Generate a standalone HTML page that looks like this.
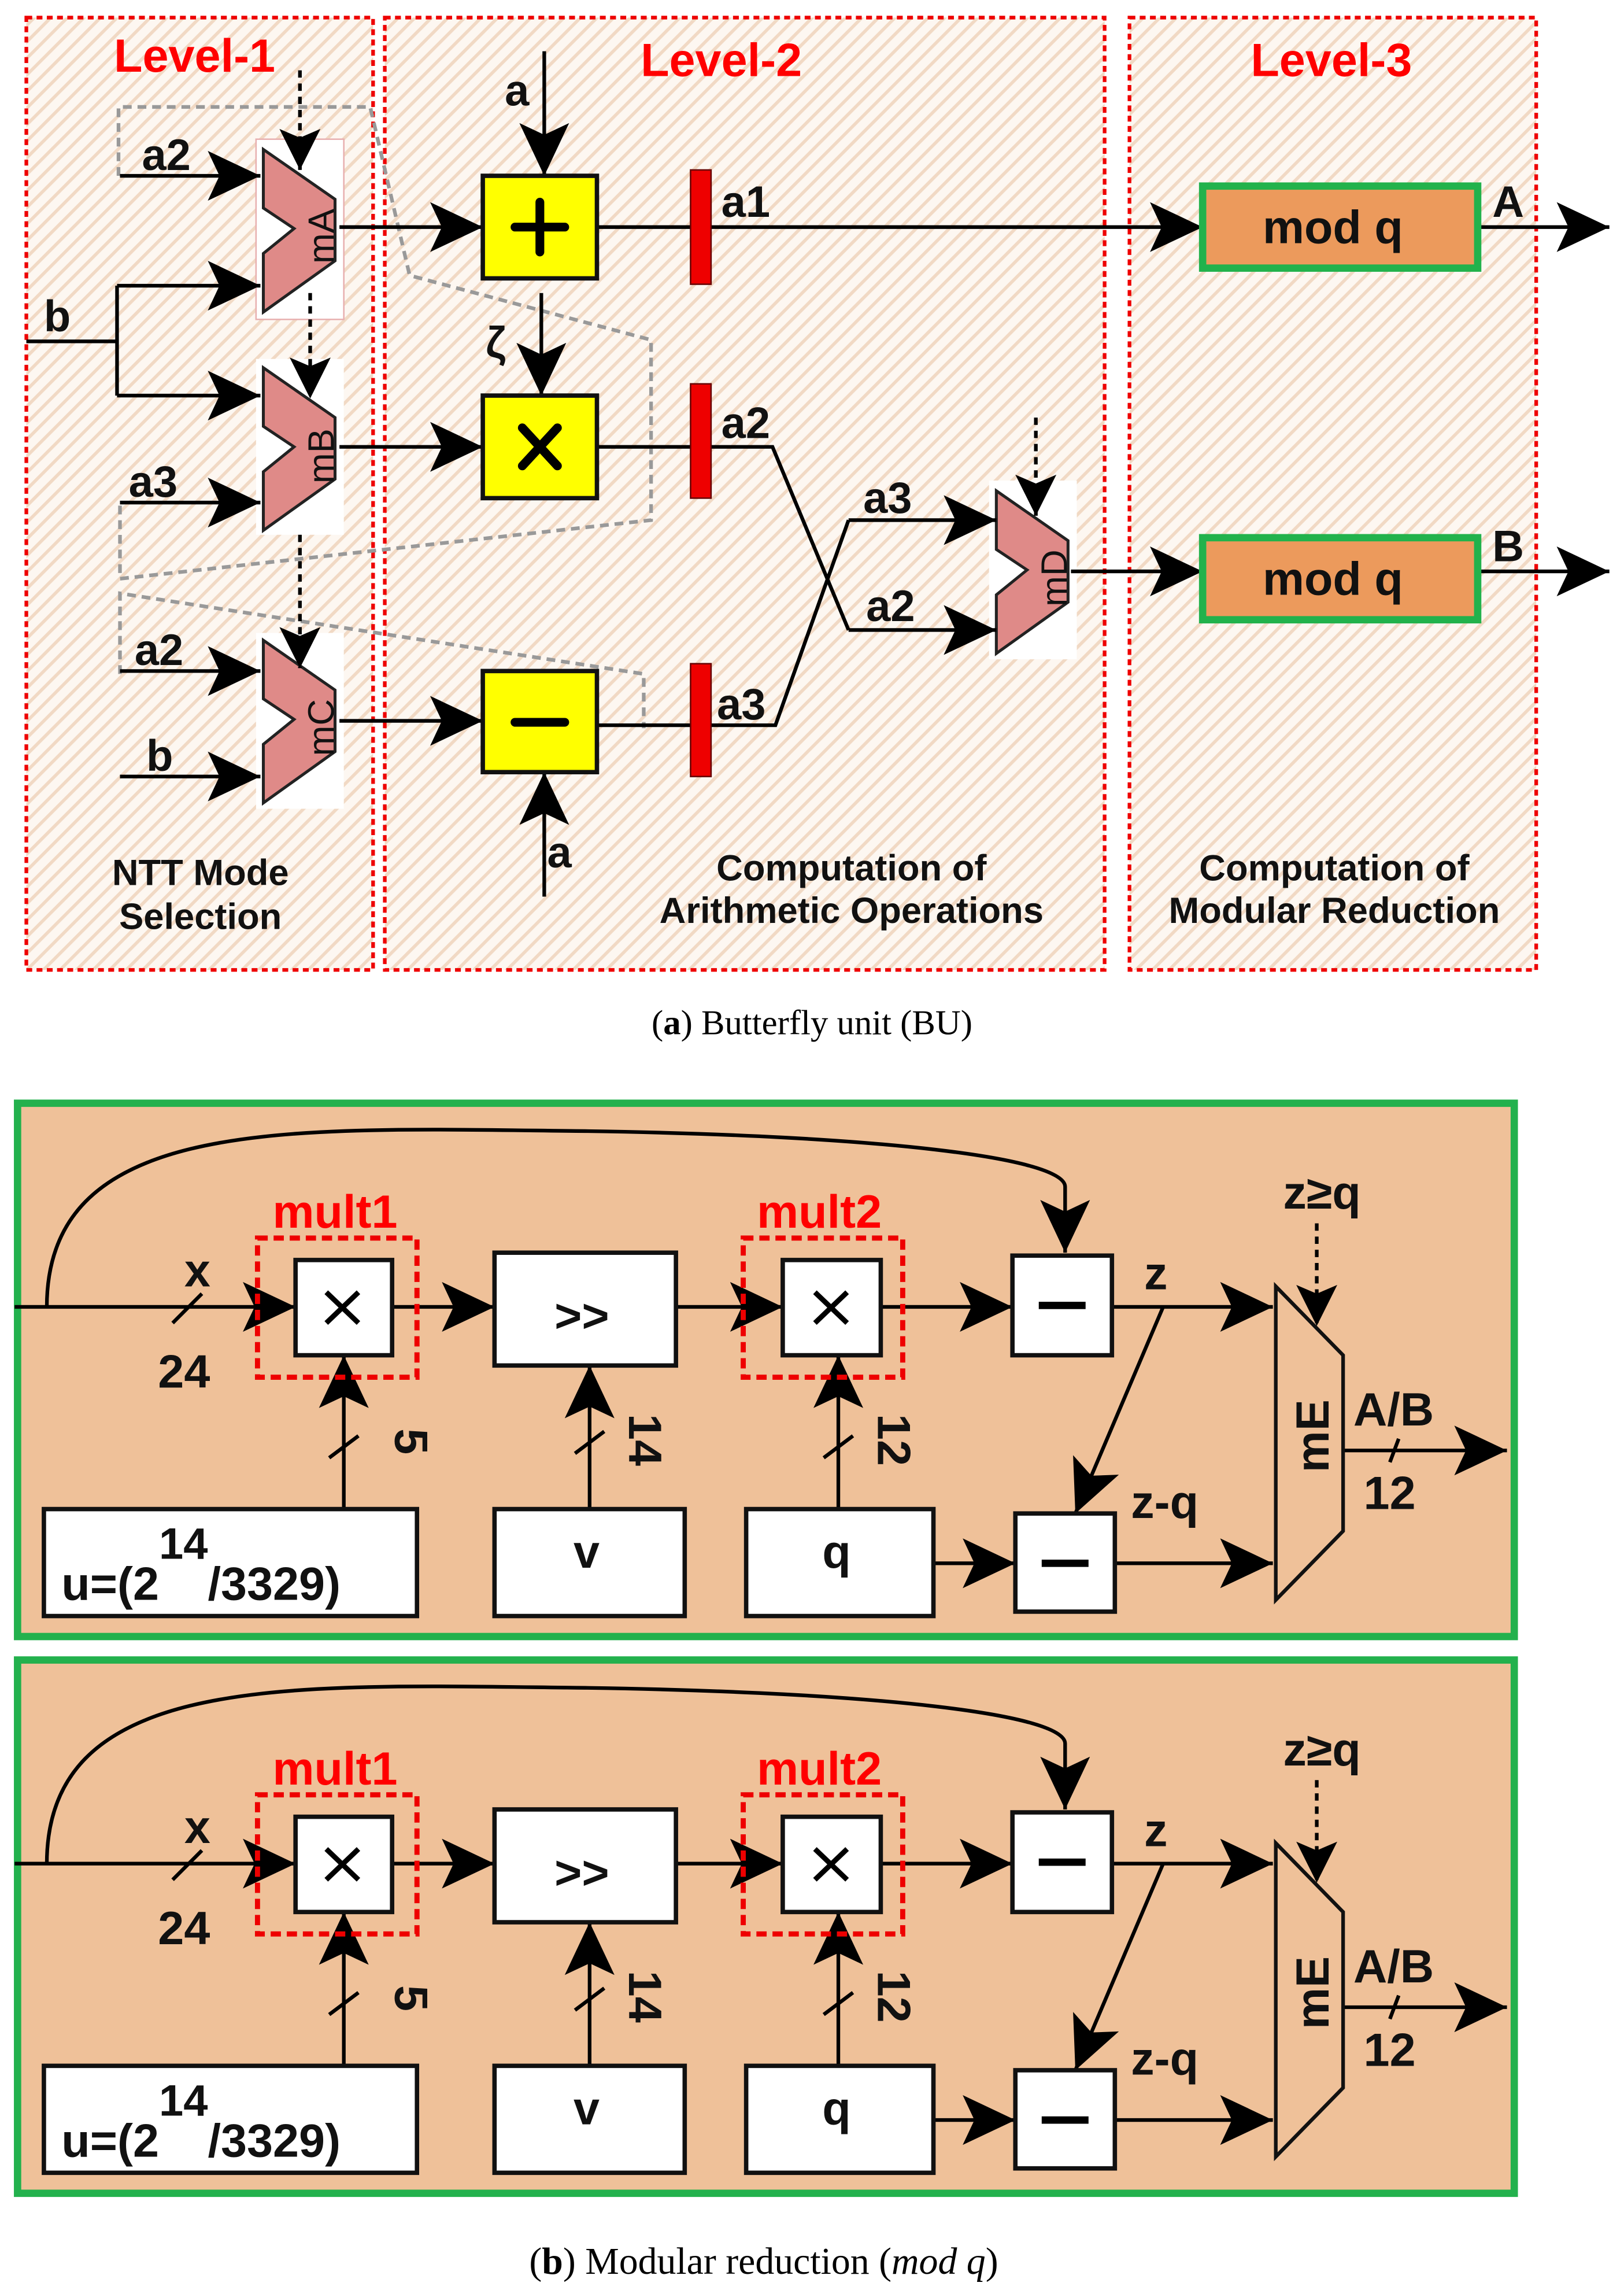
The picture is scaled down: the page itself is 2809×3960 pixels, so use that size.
<!DOCTYPE html>
<html><head><meta charset="utf-8"><style>
html,body{margin:0;padding:0;background:#fff}
svg{display:block}
text{font-family:"Liberation Sans",sans-serif;font-weight:bold}
</style></head><body>
<svg width="2809" height="3960" viewBox="0 0 1110 1563" preserveAspectRatio="none" xmlns="http://www.w3.org/2000/svg">
<defs>
<pattern id="h" width="8" height="8" patternUnits="userSpaceOnUse" patternTransform="rotate(45)">
<rect width="8" height="8" fill="#fdf7f1"/><rect width="2.2" height="8" fill="#f1d9c4"/>
</pattern>
<marker id="ah" viewBox="-36 -18 37 36" refX="0" refY="0" markerWidth="37" markerHeight="36" markerUnits="userSpaceOnUse" orient="auto"><path d="M0,0 L-36,-17 L-28,0 L-36,17 z" fill="#000"/></marker>
<marker id="as" viewBox="-28 -15 29 30" refX="0" refY="0" markerWidth="29" markerHeight="30" markerUnits="userSpaceOnUse" orient="auto"><path d="M0,0 L-28,-14 L-22,0 L-28,14 z" fill="#000"/></marker>
</defs>

<rect x="18" y="12" width="237" height="650" fill="url(#h)" stroke="#e00" stroke-width="2.5" stroke-dasharray="4,3"/>
<rect x="263" y="12" width="492" height="650" fill="url(#h)" stroke="#e00" stroke-width="2.5" stroke-dasharray="4,3"/>
<rect x="772" y="12" width="278" height="650" fill="url(#h)" stroke="#e00" stroke-width="2.5" stroke-dasharray="4,3"/>
<g fill="#f00" font-size="32" text-anchor="middle">
<text x="133" y="49">Level-1</text><text x="493" y="52">Level-2</text><text x="910" y="52">Level-3</text>
</g>

<g fill="none" stroke="#999" stroke-width="2.5" stroke-dasharray="6,4">
<path d="M81,120 L81,73 L253,73 L280,188 L445,232 L445,355 L82,395 L82,345"/>
<path d="M82,460 L82,405 L440,460 L440,497"/>
</g>

<rect x="175" y="95" width="60" height="123" fill="#fff" stroke="#e8b0b0" stroke-width="1"/>
<rect x="175" y="245" width="60" height="120" fill="#fff"/>
<rect x="175" y="432" width="60" height="120" fill="#fff"/>
<rect x="676" y="328" width="60" height="122" fill="#fff"/>

<g fill="#df8a88" stroke="#222" stroke-width="2">
<path d="M180,102 L229,136 L229,178 L180,213 L180,173 L201,156 L180,142 z"/>
<path d="M180,251 L229,285 L229,327 L180,362 L180,322 L201,305 L180,291 z"/>
<path d="M180,437 L229,471 L229,513 L180,548 L180,508 L201,491 L180,477 z"/>
<path d="M681,335 L730,369 L730,411 L681,446 L681,406 L702,389 L681,375 z"/>
</g>
<g font-size="25" fill="#111">
<text transform="translate(228,180) rotate(-90)" style="font-weight:normal">mA</text>
<text transform="translate(228,330) rotate(-90)" style="font-weight:normal">mB</text>
<text transform="translate(228,516) rotate(-90)" style="font-weight:normal">mC</text>
<text transform="translate(729,414) rotate(-90)" style="font-weight:normal">mD</text>
</g>

<g stroke="#000" stroke-width="2.5" fill="none">
<line x1="82" y1="120" x2="178" y2="120" marker-end="url(#ah)"/>
<polyline points="18,233 80,233"/>
<line x1="80" y1="195" x2="80" y2="270"/>
<line x1="80" y1="195" x2="178" y2="195" marker-end="url(#ah)"/>
<line x1="80" y1="270" x2="178" y2="270" marker-end="url(#ah)"/>
<line x1="82" y1="343" x2="178" y2="343" marker-end="url(#ah)"/>
<line x1="82" y1="458" x2="178" y2="458" marker-end="url(#ah)"/>
<line x1="82" y1="530" x2="178" y2="530" marker-end="url(#ah)"/>
</g>
<g stroke="#000" stroke-width="2.5" fill="none" stroke-dasharray="5,4">
<line x1="205" y1="48" x2="205" y2="116" marker-end="url(#as)"/>
<line x1="212" y1="200" x2="212" y2="272" marker-end="url(#as)"/>
<line x1="205" y1="365" x2="205" y2="456" marker-end="url(#as)"/>
<line x1="708" y1="285" x2="708" y2="352" marker-end="url(#as)"/>
</g>
<g font-size="30" fill="#111">
<text x="97" y="116">a2</text><text x="30" y="226">b</text><text x="88" y="339">a3</text>
<text x="92" y="454">a2</text><text x="100" y="526">b</text>
</g>

<g stroke="#000" stroke-width="2.5" fill="none">
<line x1="232" y1="155" x2="330" y2="155" marker-end="url(#ah)"/>
<line x1="232" y1="305" x2="330" y2="305" marker-end="url(#ah)"/>
<line x1="232" y1="492" x2="330" y2="492" marker-end="url(#ah)"/>
<line x1="372" y1="35" x2="372" y2="120" marker-end="url(#ah)"/>
<line x1="370" y1="200" x2="370" y2="270" marker-end="url(#ah)"/>
<line x1="372" y1="612" x2="372" y2="527" marker-end="url(#ah)"/>
<line x1="408" y1="155" x2="822" y2="155" marker-end="url(#ah)"/>
<polyline points="408,305 528,305 580,430"/>
<line x1="580" y1="430" x2="681" y2="430" marker-end="url(#ah)"/>
<polyline points="408,495 530,495 580,355"/>
<line x1="580" y1="355" x2="681" y2="355" marker-end="url(#ah)"/>
<line x1="732" y1="390" x2="822" y2="390" marker-end="url(#ah)"/>
<line x1="1010" y1="155" x2="1100" y2="155" marker-end="url(#ah)"/>
<line x1="1010" y1="390" x2="1100" y2="390" marker-end="url(#ah)"/>
</g>
<g fill="#ffff00" stroke="#111" stroke-width="3">
<rect x="330" y="120" width="78" height="70"/>
<rect x="330" y="270" width="78" height="70"/>
<rect x="330" y="458" width="78" height="69"/>
</g>
<g stroke="#000" stroke-width="6" stroke-linecap="round">
<line x1="369" y1="138" x2="369" y2="172"/><line x1="352" y1="155" x2="386" y2="155"/>
<line x1="357" y1="292" x2="381" y2="318"/><line x1="381" y1="292" x2="357" y2="318"/>
<line x1="352" y1="493" x2="386" y2="493"/>
</g>
<g fill="#e00" stroke="#600" stroke-width="1">
<rect x="472" y="116" width="14" height="78"/>
<rect x="472" y="262" width="14" height="78"/>
<rect x="472" y="453" width="14" height="77"/>
</g>
<g font-size="30" fill="#111">
<text x="345" y="72">a</text><text x="332" y="244" style="font-weight:bold">ζ</text><text x="374" y="592">a</text>
<text x="493" y="148">a1</text><text x="493" y="299">a2</text><text x="490" y="491">a3</text>
<text x="590" y="350">a3</text><text x="592" y="424">a2</text>
<text x="1020" y="148">A</text><text x="1020" y="383">B</text>
</g>
<g fill="#ec9a5c" stroke="#22b24c" stroke-width="5">
<rect x="822" y="127" width="188" height="56"/>
<rect x="822" y="367" width="188" height="56"/>
</g>
<g font-size="32" fill="#111" text-anchor="middle">
<text x="911" y="166">mod q</text><text x="911" y="406">mod q</text>
</g>
<g font-size="25" fill="#111" text-anchor="middle">
<text x="137" y="604">NTT Mode</text><text x="137" y="634">Selection</text>
<text x="582" y="601">Computation of</text><text x="582" y="630">Arithmetic Operations</text>
<text x="912" y="601">Computation of</text><text x="912" y="630">Modular Reduction</text>
</g>
<text x="555" y="706" text-anchor="middle" font-size="24" style="font-family:'Liberation Serif',serif;font-weight:normal">(<tspan style="font-weight:bold">a</tspan>) Butterfly unit (BU)</text>

<g id="pb">
<rect x="12" y="753" width="1023" height="364" fill="#efc199" stroke="#23b14d" stroke-width="5"/>
<g stroke="#000" stroke-width="2.5" fill="none">
<path d="M32,892 C32,760 200,770 400,772 C600,775 728,790 728,810 L728,855" marker-end="url(#ah)"/>
<line x1="10" y1="892" x2="202" y2="892" marker-end="url(#ah)"/>
<line x1="268" y1="892" x2="338" y2="892" marker-end="url(#ah)"/>
<line x1="462" y1="892" x2="535" y2="892" marker-end="url(#ah)"/>
<line x1="602" y1="892" x2="692" y2="892" marker-end="url(#ah)"/>
<line x1="760" y1="892" x2="870" y2="892" marker-end="url(#ah)"/>
<line x1="795" y1="892" x2="735" y2="1033" marker-end="url(#ah)"/>
<line x1="235" y1="1030" x2="235" y2="925" marker-end="url(#ah)"/>
<line x1="403" y1="1030" x2="403" y2="932" marker-end="url(#ah)"/>
<line x1="573" y1="1030" x2="573" y2="925" marker-end="url(#ah)"/>
<line x1="638" y1="1067" x2="694" y2="1067" marker-end="url(#ah)"/>
<line x1="762" y1="1067" x2="870" y2="1067" marker-end="url(#ah)"/>
<line x1="918" y1="990" x2="1030" y2="990" marker-end="url(#ah)"/>
<line x1="118" y1="903" x2="138" y2="883"/>
<line x1="225" y1="995" x2="245" y2="980"/>
<line x1="393" y1="992" x2="413" y2="977"/>
<line x1="563" y1="995" x2="583" y2="980"/>
<line x1="950" y1="998" x2="956" y2="982"/>
</g>
<line x1="900" y1="835" x2="900" y2="905" stroke="#000" stroke-width="2.5" stroke-dasharray="5,4" marker-end="url(#as)"/>
<g fill="none" stroke="#e00" stroke-width="3.5" stroke-dasharray="7,4">
<rect x="176" y="845" width="109" height="95"/>
<rect x="508" y="845" width="109" height="95"/>
</g>
<g fill="#fff" stroke="#111" stroke-width="3">
<rect x="202" y="860" width="66" height="65"/>
<rect x="338" y="855" width="124" height="77"/>
<rect x="535" y="860" width="67" height="65"/>
<rect x="692" y="857" width="68" height="68"/>
<rect x="694" y="1033" width="68" height="67"/>
<rect x="30" y="1030" width="255" height="73"/>
<rect x="338" y="1030" width="130" height="73"/>
<rect x="510" y="1030" width="128" height="73"/>
</g>
<path d="M872,878 L918,925 L918,1045 L872,1092 z" fill="#efc199" stroke="#111" stroke-width="2.5"/>
<g stroke="#000" stroke-width="3.5">
<line x1="223" y1="882" x2="245" y2="903"/><line x1="245" y1="882" x2="223" y2="903"/>
<line x1="557" y1="882" x2="579" y2="903"/><line x1="579" y1="882" x2="557" y2="903"/>
<line x1="710" y1="891" x2="742" y2="891" stroke-width="5"/>
<line x1="712" y1="1067" x2="744" y2="1067" stroke-width="5"/>
</g>
<g font-size="32" fill="#111">
<text x="126" y="878">x</text><text x="108" y="947">24</text>
<text x="379" y="909">&gt;&gt;</text>
<text x="782" y="880">z</text>
<text x="773" y="1036">z-q</text>
<text x="877" y="825">z≥q</text>
<text x="925" y="973">A/B</text>
<text x="932" y="1030">12</text>
<text x="392" y="1070">v</text>
<text x="562" y="1070">q</text>
<text x="42" y="1092">u=(2<tspan dy="-28" font-size="30">14</tspan><tspan dy="28">/3329)</tspan></text>
<text transform="translate(270,975) rotate(90)">5</text>
<text transform="translate(430,965) rotate(90)">14</text>
<text transform="translate(600,965) rotate(90)">12</text>
<text transform="translate(908,1005) rotate(-90)">mE</text>
</g>
<g font-size="32" fill="#f00" text-anchor="middle">
<text x="229" y="838">mult1</text><text x="560" y="838">mult2</text>
</g>
</g>
<use href="#pb" transform="translate(0,380)"/>
<text x="522" y="1552" text-anchor="middle" font-size="26" style="font-family:'Liberation Serif',serif;font-weight:normal">(<tspan style="font-weight:bold">b</tspan>) Modular reduction (<tspan font-style="italic">mod q</tspan>)</text>
</svg>
</body></html>
